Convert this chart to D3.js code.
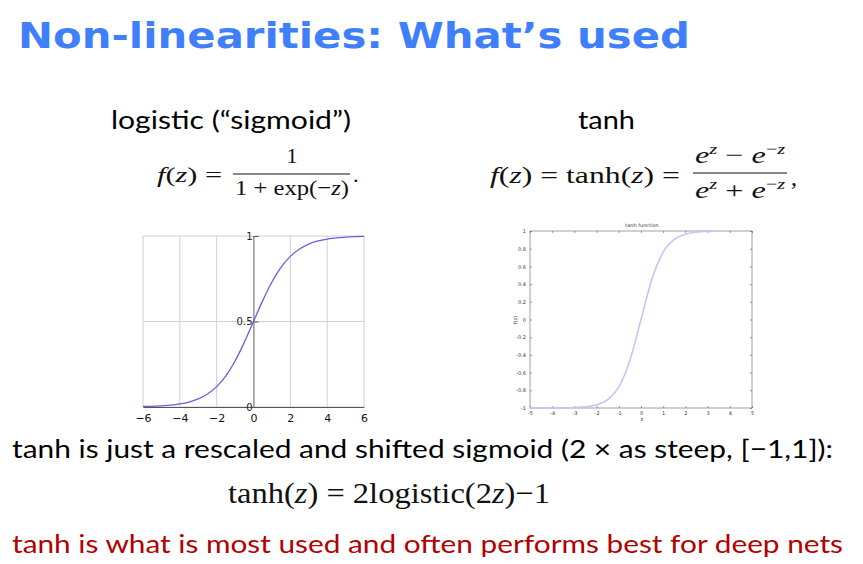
<!DOCTYPE html>
<html>
<head>
<meta charset="UTF-8">
<script src="https://d3js.org/d3.v7.min.js"></script>
<style>
  body { margin: 0; background: #fff; }
  .grid line { stroke: #d0d0d0; stroke-width: 1px; }
  .ml text { font-family: "DejaVu Sans", sans-serif; font-size: 5px; fill: #333; }
</style>
</head>
<body>
<svg id="slide" width="863" height="564"></svg>
<script>
// values
const sigX = [-6, -5.5, -5, -4.5, -4, -3.5, -3, -2.5, -2, -1.5, -1, -0.5, 0, 0.5, 1, 1.5, 2, 2.5, 3, 3.5, 4, 4.5, 5, 5.5, 6];
const sigY = [0.003, 0.004, 0.007, 0.011, 0.018, 0.029, 0.047, 0.076, 0.119, 0.182, 0.269, 0.378, 0.5, 0.622, 0.731, 0.818, 0.881, 0.924, 0.953, 0.971, 0.982, 0.989, 0.993, 0.996, 0.998];
const tanhX = [-5, -4.5, -4, -3.5, -3, -2.5, -2, -1.5, -1, -0.5, 0, 0.5, 1, 1.5, 2, 2.5, 3, 3.25];
const tanhY = [-1.0, -1.0, -0.999, -0.998, -0.995, -0.987, -0.964, -0.905, -0.762, -0.462, 0, 0.462, 0.762, 0.905, 0.964, 0.987, 0.995, 0.997];

const sigXTicks = [-6, -4, -2, 0, 2, 4, 6];
const sigYTicks = [0, 0.5, 1];
const tanhXTicks = [-5, -4, -3, -2, -1, 0, 1, 2, 3, 4, 5];
const tanhYTicks = [-1, -0.8, -0.6, -0.4, -0.2, 0, 0.2, 0.4, 0.6, 0.8, 1];

const svg = d3.select("#slide");

// title
svg.append("text")
    .attr("x", 18).attr("y", 48)
    .attr("textLength", 672).attr("lengthAdjust", "spacingAndGlyphs")
    .style("font-family", "DejaVu Sans").style("font-weight", "bold")
    .style("font-size", "36px").style("fill", "#3f7ffb")
    .text("Non-linearities: What’s used");

const body = (t, x, y, w, size, color) => svg.append("text")
    .attr("x", x).attr("y", y)
    .attr("textLength", w).attr("lengthAdjust", "spacingAndGlyphs")
    .style("font-family", "Lato, 'Open Sans', sans-serif")
    .style("font-size", size + "px").style("fill", color || "#000")
    .text(t);

body("logistic (“sigmoid”)", 111, 129, 240, 25);
body("tanh", 578, 129, 57, 25);
body("tanh is just a rescaled and shifted sigmoid (2 × as steep, [−1,1]):", 12, 458, 821, 25);
body("tanh is what is most used and often performs best for deep nets", 12, 553, 831, 25, "#b30000");

// formulas
const serif = (x, y, size, anchor, w) => {
    const s = svg.append("text")
        .attr("x", x).attr("y", y)
        .attr("text-anchor", anchor || "start")
        .style("font-family", "'Liberation Serif', 'DejaVu Serif', serif")
        .style("font-size", size + "px").style("fill", "#111");
    if (w) s.attr("textLength", w).attr("lengthAdjust", "spacingAndGlyphs");
    return s;
};

let t = serif(157, 182, 22, "start", 65);
t.append("tspan").style("font-style", "italic").text("f");
t.append("tspan").text("(");
t.append("tspan").style("font-style", "italic").text("z");
t.append("tspan").text(")  =");
serif(292, 163, 22, "middle").text("1");
svg.append("line").attr("x1", 233).attr("x2", 350).attr("y1", 174).attr("y2", 174)
    .style("stroke", "#111").style("stroke-width", 1);
t = serif(235, 195, 22, "start", 114);
t.append("tspan").text("1 + exp(−");
t.append("tspan").style("font-style", "italic").text("z");
t.append("tspan").text(")");
serif(353, 182, 22).text(".");

t = serif(490, 183, 24, "start", 190);
t.append("tspan").style("font-style", "italic").text("f");
t.append("tspan").text("(");
t.append("tspan").style("font-style", "italic").text("z");
t.append("tspan").text(") = tanh(");
t.append("tspan").style("font-style", "italic").text("z");
t.append("tspan").text(") =");
svg.append("line").attr("x1", 693).attr("x2", 787).attr("y1", 173).attr("y2", 173)
    .style("stroke", "#111").style("stroke-width", 1);
const expo = (y, sign) => {
    const e = serif(695, y, 24, "start", 90);
    e.append("tspan").style("font-style", "italic").text("e");
    e.append("tspan").attr("dy", -9).style("font-size", "15px").style("font-style", "italic").text("z");
    e.append("tspan").attr("dy", 9).text(" " + sign + " ");
    e.append("tspan").style("font-style", "italic").text("e");
    e.append("tspan").attr("dy", -9).style("font-size", "15px").text("−");
    e.append("tspan").style("font-size", "15px").style("font-style", "italic").text("z");
};
expo(163, "−");
expo(198, "+");
serif(791, 185, 24).text(",");

t = serif(228, 503, 30, "start", 322);
t.append("tspan").text("tanh(");
t.append("tspan").style("font-style", "italic").text("z");
t.append("tspan").text(") = 2logistic(2");
t.append("tspan").style("font-style", "italic").text("z");
t.append("tspan").text(")−1");

// ---- left plot: logistic ----
const x1 = d3.scaleLinear().domain([-6, 6]).range([143, 364]);
const y1 = d3.scaleLinear().domain([0, 1]).range([407, 236]);
const left = svg.append("g");

left.append("g").attr("class", "grid")
    .selectAll("line").data(sigXTicks).join("line")
    .attr("x1", d => x1(d)).attr("x2", d => x1(d))
    .attr("y1", y1(0)).attr("y2", y1(1));
left.append("g").attr("class", "grid")
    .selectAll("line").data(sigYTicks).join("line")
    .attr("x1", x1(-6)).attr("x2", x1(6))
    .attr("y1", d => y1(d)).attr("y2", d => y1(d));

left.append("g")
    .attr("transform", `translate(0,${y1(0)})`)
    .call(d3.axisBottom(x1).tickValues(sigXTicks).tickSize(0).tickPadding(7)
        .tickFormat(d => d < 0 ? "−" + Math.abs(d) : d))
    .call(g => g.select(".domain").attr("stroke", "#555"))
    .call(g => g.selectAll("text").style("font-family", "DejaVu Sans").style("font-size", "11px").attr("fill", "#111"));

left.append("g")
    .attr("transform", `translate(${x1(0)},0)`)
    .call(d3.axisLeft(y1).tickValues(sigYTicks).tickSize(-5).tickPadding(1)
        .tickFormat(d3.format("~g")))
    .call(g => g.select(".domain").attr("stroke", "#777"))
    .call(g => g.selectAll(".tick line").attr("stroke", "#555"))
    .call(g => g.selectAll("text").style("font-family", "DejaVu Sans").style("font-size", "10px").attr("fill", "#222"));

left.append("path")
    .datum(sigX.map((x, i) => [x, sigY[i]]))
    .attr("fill", "none").attr("stroke", "#6a5ee0").attr("stroke-width", 1.3)
    .attr("d", d3.line().x(d => x1(d[0])).y(d => y1(d[1])).curve(d3.curveMonotoneX));

// ---- right plot: tanh (matlab style) ----
const x2 = d3.scaleLinear().domain([-5, 5]).range([530, 752]);
const y2 = d3.scaleLinear().domain([-1, 1]).range([408, 231]);
const right = svg.append("g").attr("class", "ml");

right.append("rect").attr("x", 530).attr("y", 231)
    .attr("width", x2(5) - x2(-5)).attr("height", y2(-1) - y2(1))
    .attr("fill", "none").attr("stroke", "#777").attr("stroke-width", 0.7);

const fmt = d => d3.format("~g")(d).replace("−", "-");
right.append("g").attr("transform", `translate(0,${y2(-1)})`)
    .call(d3.axisBottom(x2).tickValues(tanhXTicks).tickSize(-2).tickPadding(3).tickFormat(fmt))
    .call(g => g.select(".domain").remove());
right.append("g").attr("transform", `translate(0,${y2(1)})`)
    .call(d3.axisTop(x2).tickValues(tanhXTicks).tickSize(-2).tickFormat(""))
    .call(g => g.select(".domain").remove());
right.append("g").attr("transform", `translate(${x2(-5)},0)`)
    .call(d3.axisLeft(y2).tickValues(tanhYTicks).tickSize(-2).tickPadding(4).tickFormat(fmt))
    .call(g => g.select(".domain").remove());
right.append("g").attr("transform", `translate(${x2(5)},0)`)
    .call(d3.axisRight(y2).tickValues(tanhYTicks).tickSize(-2).tickFormat(""))
    .call(g => g.select(".domain").remove());
right.selectAll(".tick line").attr("stroke", "#555").attr("stroke-width", 0.6);

right.append("text").attr("x", 642).attr("y", 227).attr("text-anchor", "middle").text("tanh function");
right.append("text").attr("x", 642).attr("y", 421).attr("text-anchor", "middle").text("z");
right.append("text").attr("transform", "translate(517,320) rotate(-90)").attr("text-anchor", "middle").text("f(z)");

right.append("path")
    .datum(tanhX.map((x, i) => [x, tanhY[i]]))
    .attr("fill", "none").attr("stroke", "#c4c4fb").attr("stroke-width", 1.6)
    .attr("d", d3.line().x(d => x2(d[0])).y(d => y2(d[1])).curve(d3.curveMonotoneX));
</script>
</body>
</html>
